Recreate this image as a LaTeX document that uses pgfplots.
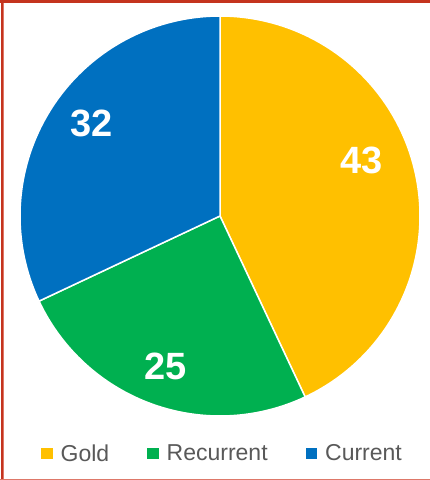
\documentclass[border=0pt]{standalone}
\usepackage{pgfplots}
\usepackage{pgfplotstable}
\pgfplotsset{compat=1.18}
\usepackage{fontspec}
\setmainfont{Liberation Sans}
\definecolor{cgold}{HTML}{FFC000}
\definecolor{cgreen}{HTML}{00B050}
\definecolor{cblue}{HTML}{0070C0}
\definecolor{cframe}{RGB}{196,52,30}
\definecolor{cframelight}{RGB}{222,120,105}
\definecolor{ctext}{HTML}{595959}

\pgfplotstableread{
label value
Gold 43
Recurrent 25
Current 32
}\piedata

\pgfplotstablegetelem{0}{value}\of\piedata \let\vA\pgfplotsretval
\pgfplotstablegetelem{1}{value}\of\piedata \let\vB\pgfplotsretval
\pgfplotstablegetelem{2}{value}\of\piedata \let\vC\pgfplotsretval
\pgfmathsetmacro{\tot}{\vA+\vB+\vC}
\pgfmathsetmacro{\aA}{90-360*\vA/\tot}
\pgfmathsetmacro{\aB}{\aA-360*\vB/\tot}
\pgfmathsetmacro{\aC}{\aB-360*\vC/\tot}

\begin{document}
\begin{tikzpicture}
\begin{axis}[
  width=430pt, height=480pt, scale only axis,
  xmin=0, xmax=430, ymin=0, ymax=480,
  hide axis, clip=false,
  legend style={at={(axis cs:222,26.5)}, anchor=center, draw=none, fill=none,
    legend columns=3, font=\fontsize{23}{26}\selectfont, text=ctext,
    nodes={inner xsep=1pt},
    /tikz/every odd column/.append style={column sep=7pt},
    /tikz/every even column/.append style={column sep=37pt},
    legend cell align=left},
  legend image code/.code={\fill[#1,draw=none] (0pt,-5.75pt) rectangle (11.5pt,5.75pt);},
]
\fill[white] (axis cs:0,0) rectangle (axis cs:430,480);
\addplot[fill=cgold, draw=white, line width=1.5pt, domain=\aA:90, samples=120]
  ({220+200*cos(x)},{264+200*sin(x)}) -- (axis cs:220,264) -- cycle;
\addlegendentry{Gold}
\addplot[fill=cgreen, draw=white, line width=1.5pt, domain=\aB:\aA, samples=80]
  ({220+200*cos(x)},{264+200*sin(x)}) -- (axis cs:220,264) -- cycle;
\addlegendentry{Recurrent}
\addplot[fill=cblue, draw=white, line width=1.5pt, domain=\aC:\aB, samples=100]
  ({220+200*cos(x)},{264+200*sin(x)}) -- (axis cs:220,264) -- cycle;
\addlegendentry{Current}
\node[text=white, font=\fontsize{38}{40}\selectfont\bfseries] at (axis cs:362,320) {43};
\node[text=white, font=\fontsize{38}{40}\selectfont\bfseries] at (axis cs:166,114) {25};
\node[text=white, font=\fontsize{38}{40}\selectfont\bfseries] at (axis cs:92,357) {32};
\fill[cframe] (axis cs:0,476.7) rectangle (axis cs:430,480);
\fill[cframe] (axis cs:1,0) rectangle (axis cs:2.5,480);
\fill[cframelight] (axis cs:2.5,0) rectangle (axis cs:4,477);
\fill[cframelight] (axis cs:0,0) rectangle (axis cs:430,1.3);
\end{axis}
\end{tikzpicture}
\end{document}
